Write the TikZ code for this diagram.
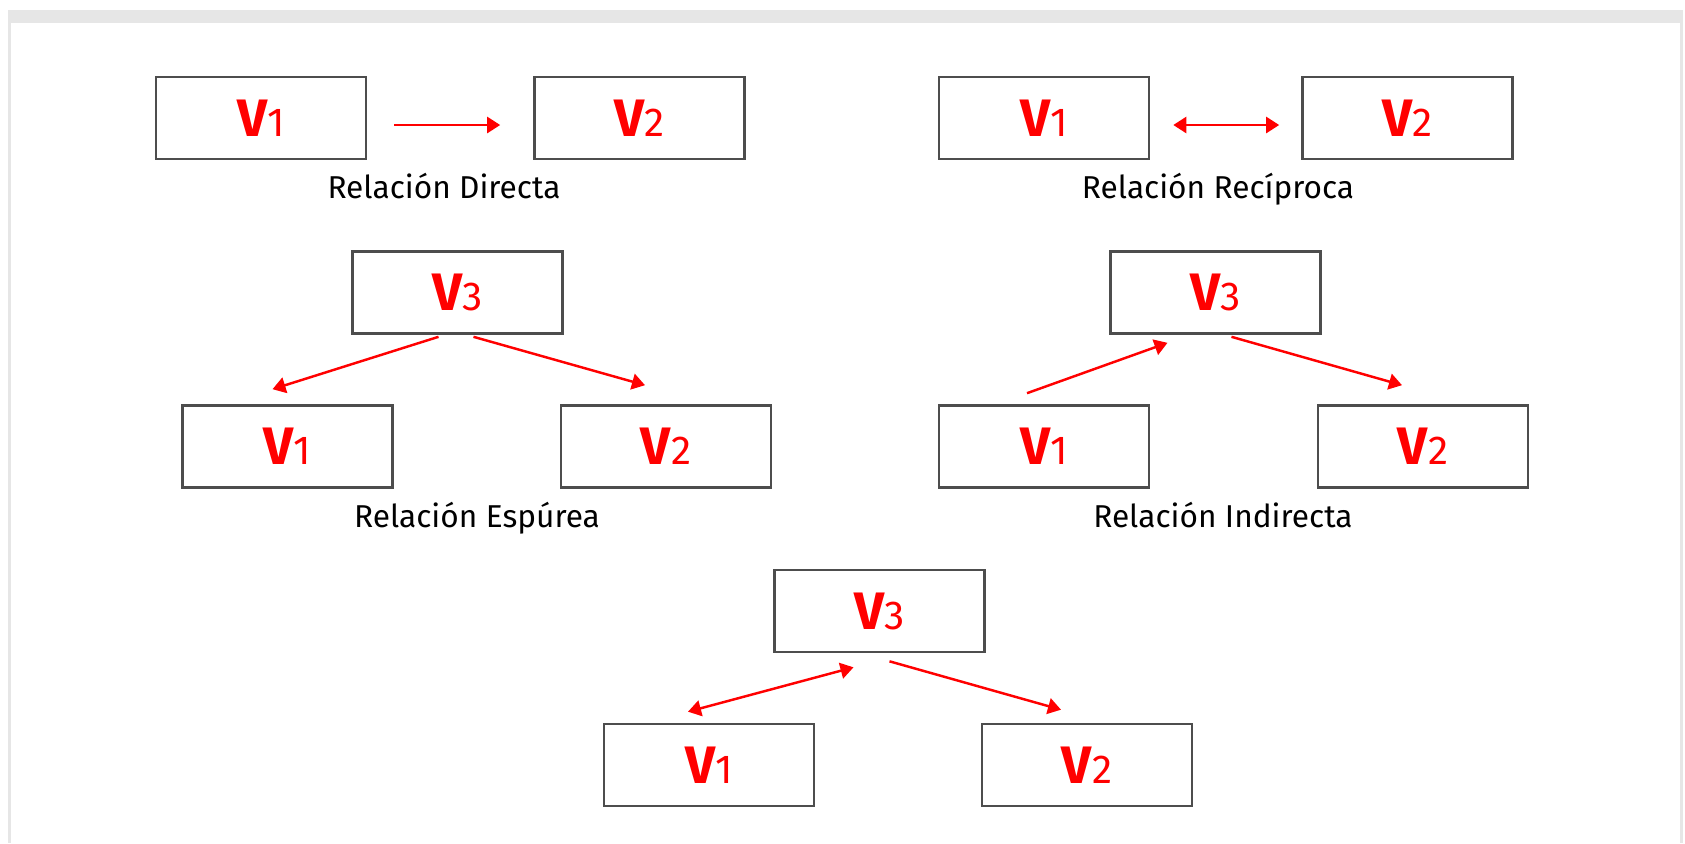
\documentclass[tikz,border=0pt]{standalone}
\usepackage{fontspec}
\setmainfont{Fira Sans}
\usetikzlibrary{arrows.meta}
\definecolor{frame}{HTML}{E6E6E6}
\definecolor{boxline}{HTML}{4D4D4D}
\definecolor{vred}{HTML}{FF0000}
\newcommand{\vname}[1]{{\fontsize{30}{30}\selectfont\bfseries V}{\fontsize{23}{23}\selectfont #1}}

\begin{document}
\begin{tikzpicture}[x=0.02cm,y=-0.02cm,>={Triangle[length=0.26cm,width=0.32cm]}]
  \tikzstyle{var}=[rectangle,draw=boxline,line width=1.5pt,text=vred,minimum width=4.2cm,minimum height=1.64cm,inner sep=0pt]
  \tikzstyle{rel}=[->,draw=vred,fill=vred,line width=1.4pt]
  \tikzstyle{lbl}=[font=\fontsize{18}{18}\selectfont,inner sep=0pt,anchor=base]

  % frame
  \useasboundingbox (0,0) rectangle (1685,843);
  \fill[frame] (8,10) rectangle (1683,23);
  \fill[frame] (8,23) rectangle (10.5,843);
  \fill[frame] (1680,23) rectangle (1683,843);

  % relacion directa
  \node[var] (d1) at (261,118) {\vname{1}};
  \node[var] (d2) at (639.5,118) {\vname{2}};
  \node[lbl] (ld) at (444,198) {Relación Directa};
  \draw[rel] ([shift={(27,7)}]d1.east) -- ([shift={(-33,7)}]d2.west);

  % relacion reciproca
  \node[var] (r1) at (1044,118) {\vname{1}};
  \node[var] (r2) at (1407.5,118) {\vname{2}};
  \node[lbl] (lr) at (1218,198) {Relación Recíproca};
  \draw[rel,<->] ([shift={(23,7)}]r1.east) -- ([shift={(-22,7)}]r2.west);

  % relacion espurea
  \node[var] (s3) at (457.5,292.5) {\vname{3}};
  \node[var] (s1) at (287.5,446.5) {\vname{1}};
  \node[var] (s2) at (666,446.5) {\vname{2}};
  \node[lbl] (ls) at (477,527) {Relación Espúrea};
  \draw[rel] ([shift={(-19,2)}]s3.south) -- ([shift={(-15,-15)}]s1.north);
  \draw[rel] ([shift={(16,2)}]s3.south) -- ([shift={(-21,-19)}]s2.north);

  % relacion indirecta
  \node[var] (i3) at (1215.5,292.5) {\vname{3}};
  \node[var] (i1) at (1044,446.5) {\vname{1}};
  \node[var] (i2) at (1423,446.5) {\vname{2}};
  \node[lbl] (li) at (1223,527) {Relación Indirecta};
  \draw[rel] ([shift={(-17,-11)}]i1.north) -- ([shift={(-48,8)}]i3.south);
  \draw[rel] ([shift={(16,2)}]i3.south) -- ([shift={(-21,-19)}]i2.north);

  % sin nombre
  \node[var] (b3) at (879.5,611) {\vname{3}};
  \node[var] (b1) at (709,765) {\vname{1}};
  \node[var] (b2) at (1087,765) {\vname{2}};
  \draw[rel,<->] ([shift={(-21,-11)}]b1.north) -- ([shift={(-26,14)}]b3.south);
  \draw[rel] ([shift={(10,8)}]b3.south) -- ([shift={(-26,-13)}]b2.north);
\end{tikzpicture}
\end{document}
